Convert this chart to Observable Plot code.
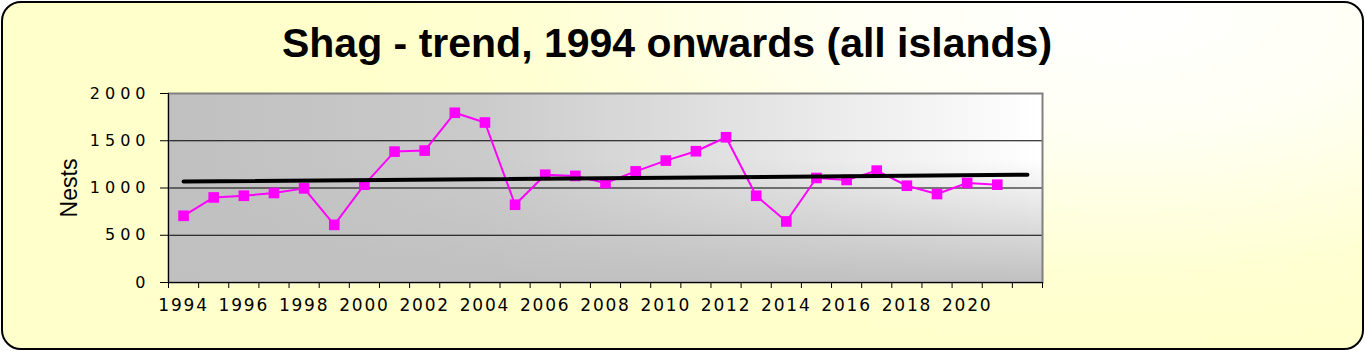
<!DOCTYPE html>
<html>
<head>
<meta charset="utf-8">
<script src="https://cdn.jsdelivr.net/npm/d3@7"></script>
<script src="https://cdn.jsdelivr.net/npm/@observablehq/plot@0.6"></script>
<style>
html, body { margin: 0; padding: 0; background: #ffffff; width: 1365px; height: 351px; overflow: hidden; }
#card {
  position: absolute; left: 1px; top: 1px; width: 1363px; height: 349px;
  box-sizing: border-box; border: 2px solid #000; border-radius: 20px;
  background: radial-gradient(ellipse 760px 330px at 1120px 10px, #ffffff 0%, #fffff4 35%, #ffffd2 80%, #ffffcc 100%);
}
#title {
  position: absolute; left: 0; top: 23px; width: 1334px; text-align: center;
  font: bold 41px/40px "Liberation Sans", Arial, sans-serif; color: #000; white-space: nowrap;
}
#chart { position: absolute; left: 0; top: 0; }
</style>
</head>
<body>
<div id="card"></div>
<div id="title">Shag - trend, 1994 onwards (all islands)</div>
<div id="chart"></div>
<script>
// ---- data ----
const years = [1994, 1995, 1996, 1997, 1998, 1999, 2000, 2001, 2002, 2003, 2004, 2005, 2006, 2007,
               2008, 2009, 2010, 2011, 2012, 2013, 2014, 2015, 2016, 2017, 2018, 2019, 2020, 2021];
const nests = [706, 900, 918, 947, 996, 610, 1035, 1385, 1396, 1796, 1693, 823, 1140, 1128,
               1053, 1176, 1290, 1389, 1537, 918, 646, 1106, 1085, 1184, 1024, 936, 1053, 1035];
// category axis runs one year past the data (trend forecast)
const axisYears = [1994, 1995, 1996, 1997, 1998, 1999, 2000, 2001, 2002, 2003, 2004, 2005, 2006, 2007,
                   2008, 2009, 2010, 2011, 2012, 2013, 2014, 2015, 2016, 2017, 2018, 2019, 2020, 2021, 2022];
const xTickLabels = [1994, 1996, 1998, 2000, 2002, 2004, 2006, 2008, 2010, 2012, 2014, 2016, 2018, 2020];
const yTicks = [0, 500, 1000, 1500, 2000];
const trendYears = [1994, 2022];
const trendValues = [1068, 1140];

const data = years.map((y, i) => ({year: y, nests: nests[i]}));
const trend = trendYears.map((y, i) => ({year: y, nests: trendValues[i]}));
const edges = axisYears.map(d => d - 0.5).concat([axisYears[axisYears.length - 1] + 0.5]);

const defsMark = () => {
  const defs = d3.create("svg:defs");
  const g1 = defs.append("linearGradient").attr("id", "plotBg").attr("x1", 0).attr("x2", 1).attr("y1", 0).attr("y2", 0);
  [["0%", "#c0c0c0"], ["35%", "#cacaca"], ["70%", "#e6e6e6"], ["100%", "#ffffff"]]
    .forEach(([o, c]) => g1.append("stop").attr("offset", o).attr("stop-color", c));
  const g2 = defs.append("linearGradient").attr("id", "plotShade").attr("x1", 0).attr("x2", 0).attr("y1", 0).attr("y2", 1);
  [["0%", 0], ["35%", 0], ["100%", 1]]
    .forEach(([o, a]) => g2.append("stop").attr("offset", o).attr("stop-color", "#c0c0c0").attr("stop-opacity", a));
  return defs.node();
};

const plot = Plot.plot({
  width: 1365,
  height: 351,
  marginLeft: 168,
  marginRight: 323,
  marginTop: 93,
  marginBottom: 69,
  style: {background: "transparent", color: "#000", overflow: "visible"},
  x: {domain: [edges[0], edges[edges.length - 1]]},
  y: {domain: [0, 2000]},
  marks: [
    defsMark,
    Plot.frame({fill: "url(#plotBg)"}),
    Plot.frame({fill: "url(#plotShade)"}),
    Plot.gridY([500, 1000, 1500], {stroke: "#000", strokeOpacity: 1, strokeWidth: 1}),
    Plot.frame({stroke: "#808080", strokeWidth: 2}),
    Plot.ruleY([0], {stroke: "#000", strokeWidth: 1}),
    Plot.ruleX([edges[0]], {stroke: "#000", strokeWidth: 1}),
    Plot.axisY({ticks: yTicks, tickSize: 8, tickPadding: 10, fontSize: 16, fontFamily: "DejaVu Sans",
                tickFormat: d => String(d), label: null, stroke: "#000"}),
    Plot.axisX({ticks: edges, tickSize: 6, tickFormat: () => "", label: null, stroke: "#000"}),
    Plot.axisX({ticks: xTickLabels, tickSize: 0, tickPadding: 16, fontSize: 17, fontFamily: "DejaVu Sans",
                tickFormat: d => String(d), label: null}),
    Plot.line(data, {x: "year", y: "nests", stroke: "#ff00ff", strokeWidth: 2}),
    Plot.dot(data, {x: "year", y: "nests", symbol: "square", r: 6, fill: "#ff00ff", stroke: "none"}),
    Plot.line(trend, {x: "year", y: "nests", stroke: "#000", strokeWidth: 4, strokeLinecap: "round"}),
    Plot.text(["Nests"], {frameAnchor: "left", dx: -99, rotate: -90, fontSize: 23, textAnchor: "middle",
                          fontFamily: "Liberation Sans", fill: "#000"})
  ]
});

document.getElementById("chart").appendChild(plot);

// letter spacing of the tick labels, as in the original
d3.select(plot).selectAll('g[aria-label="y-axis tick label"] text').style("letter-spacing", "5px");
d3.select(plot).selectAll('g[aria-label="x-axis tick label"] text').style("letter-spacing", "1.8px");
</script>
</body>
</html>
